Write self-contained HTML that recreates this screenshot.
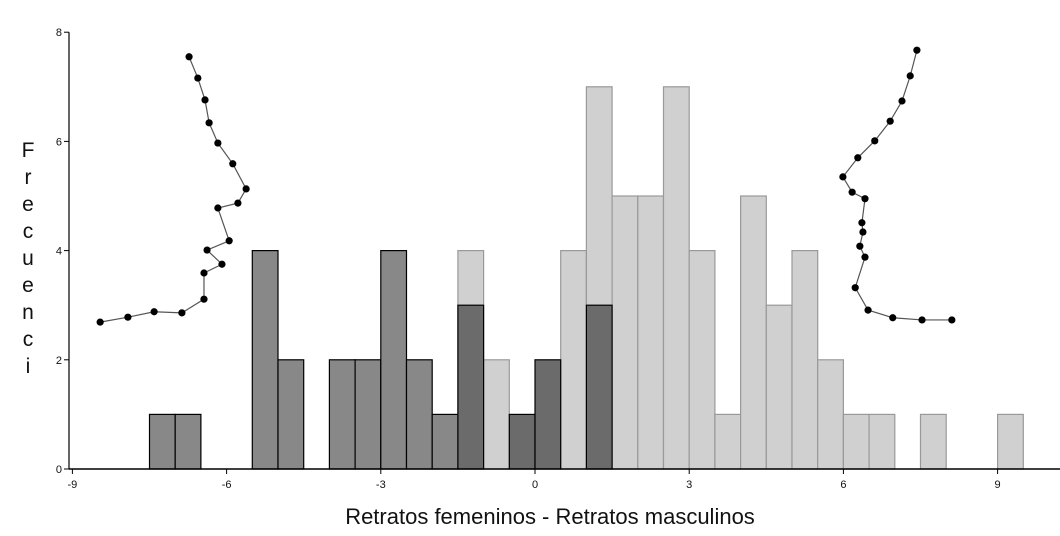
<!DOCTYPE html>
<html><head><meta charset="utf-8"><style>
body{margin:0;background:#fff;}
svg{display:block;font-family:"Liberation Sans",Arial,sans-serif;}
</style></head><body>
<svg id="chart" width="1060" height="536">
<g id="bars"></g>
<g id="curves"></g>
<g id="axes"></g>
<text x="550" y="524" font-size="22" text-anchor="middle" fill="#111">Retratos femeninos - Retratos masculinos</text>
<g font-size="21" fill="#111" text-anchor="middle">
<text x="28" y="157">F</text><text x="28" y="184">r</text><text x="28" y="211">e</text><text x="28" y="238">c</text><text x="28" y="265">u</text><text x="28" y="292">e</text><text x="28" y="319">n</text><text x="28" y="346">c</text><text x="28" y="373">i</text><text x="28" y="370" opacity="0"></text>
</g>
</svg>
<script>
const midStarts=[-7.5,-7,-5.5,-5,-4,-3.5,-3,-2.5,-2];
const midCounts=[1,1,4,2,2,2,4,2,1];
const lightStarts=[-1.5,-1,0.5,1,1.5,2,2.5,3,3.5,4,4.5,5,5.5,6,6.5,7.5,9];
const lightCounts=[4,2,4,7,5,5,7,4,1,5,3,4,2,1,1,1,1];
const darkStarts=[-1.5,-0.5,0,1];
const darkCounts=[3,1,2,3];
const leftCurveX=[-8.46,-7.92,-7.41,-6.87,-6.44,-6.44,-6.09,-6.38,-5.95,-6.17,-5.78,-5.62,-5.88,-6.17,-6.34,-6.42,-6.56,-6.73];
const leftCurveY=[2.69,2.78,2.88,2.86,3.11,3.59,3.75,4.01,4.18,4.78,4.87,5.13,5.59,5.97,6.34,6.76,7.16,7.55];
const rightCurveX=[7.43,7.30,7.14,6.91,6.61,6.28,5.99,6.17,6.42,6.36,6.38,6.32,6.42,6.23,6.48,6.96,7.53,8.11];
const rightCurveY=[7.67,7.20,6.74,6.37,6.01,5.70,5.35,5.07,4.95,4.51,4.34,4.08,3.88,3.32,2.91,2.77,2.73,2.73];
const xTicks=[-9,-6,-3,0,3,6,9];
const yTicks=[0,2,4,6,8];
const binW=0.5;
const NS="http://www.w3.org/2000/svg";
const xs=v=>535+v*51.4;
const ys=v=>469-v*54.6;
function mk(tag,parent,attrs){const e=document.createElementNS(NS,tag);for(const k in attrs)e.setAttribute(k,attrs[k]);parent.appendChild(e);return e;}
const bars=document.getElementById('bars');
function drawBars(starts,counts,fill,stroke,name){
 starts.forEach((s,i)=>{
  const r=mk('rect',bars,{x:xs(s),y:ys(counts[i]),width:xs(s+binW)-xs(s),height:ys(0)-ys(counts[i]),fill:fill,stroke:stroke,'stroke-width':1.2});
  
  
 });
}
drawBars(midStarts,midCounts,'#888888','#000','female');
drawBars(lightStarts,lightCounts,'#d0d0d0','#999','male');
drawBars(darkStarts,darkCounts,'#6b6b6b','#000','overlap');
const curves=document.getElementById('curves');
function drawCurve(X,Y,name){
 const pl=mk('polyline',curves,{points:X.map((x,i)=>xs(x)+','+ys(Y[i])).join(' '),fill:'none',stroke:'#555','stroke-width':1.2});
 
 
 X.forEach((x,i)=>{
  const c=mk('circle',curves,{cx:xs(x),cy:ys(Y[i]),r:3.6,fill:'#000'});
  
  
 });
}
drawCurve(leftCurveX,leftCurveY,'left-curve');
drawCurve(rightCurveX,rightCurveY,'right-curve');
const axes=document.getElementById('axes');
const xl=mk('line',axes,{x1:69,y1:469,x2:1060,y2:469,stroke:'#000','stroke-width':1.5});


const yl=mk('line',axes,{x1:69,y1:ys(8),x2:69,y2:469,stroke:'#000','stroke-width':1.2});


xTicks.forEach(t=>{
 mk('line',axes,{x1:xs(t),y1:469,x2:xs(t),y2:474,stroke:'#000'});
 const tx=mk('text',axes,{x:xs(t),y:488,'font-size':11,'text-anchor':'middle',fill:'#111'});
 tx.textContent=t;
 
 
});
yTicks.forEach(t=>{
 mk('line',axes,{x1:64,y1:ys(t),x2:69,y2:ys(t),stroke:'#000'});
 const tx=mk('text',axes,{x:62,y:ys(t)+4,'font-size':11,'text-anchor':'end',fill:'#111'});
 tx.textContent=t;
 
 
});
</script>
</body></html>
